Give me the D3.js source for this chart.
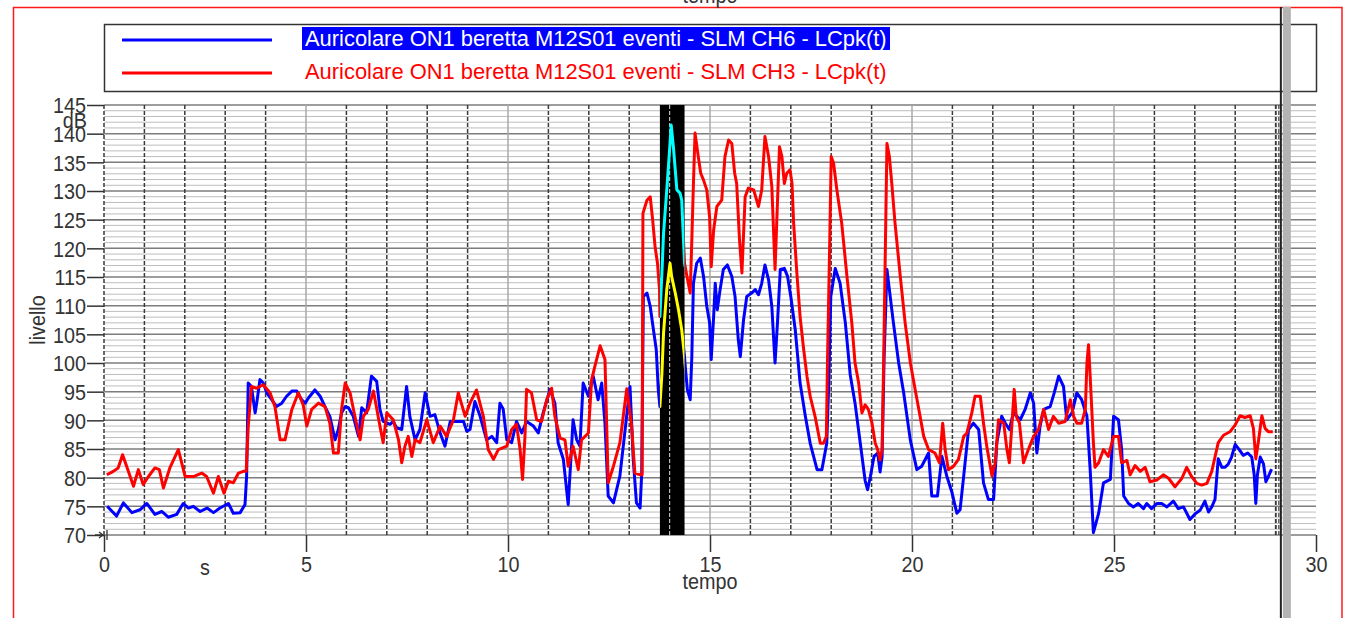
<!DOCTYPE html>
<html><head><meta charset="utf-8">
<script src="https://cdn.jsdelivr.net/npm/d3@7"></script>
<style>body{margin:0;background:#fff;overflow:hidden}svg{display:block}text{font-family:"Liberation Sans",Arial,sans-serif}</style>
</head><body>
<svg id="c" width="1350" height="618"></svg>
<script>
// ---------------- DATA ----------------
const seriesNames = [
  "Auricolare ON1 beretta M12S01 eventi - SLM CH6 - LCpk(t)",
  "Auricolare ON1 beretta M12S01 eventi - SLM CH3 - LCpk(t)"
];
// [time s, level dB]
const ch6 = [
[0.08,75.0],[0.31,73.3],[0.48,75.6],[0.69,73.9],[0.89,74.4],[1.06,75.5],[1.26,73.6],[1.43,74.1],[1.59,73.1],[1.80,73.6],
[1.96,75.5],[2.09,74.7],[2.21,75.0],[2.38,74.1],[2.55,74.7],[2.71,73.9],[2.87,74.7],[3.08,75.5],[3.20,73.8],[3.37,73.9],
[3.49,75.3],[3.53,80.2],[3.57,96.5],[3.65,95.9],[3.74,91.3],[3.78,93.0],[3.86,97.1],[3.94,96.5],[4.03,94.8],[4.15,93.6],
[4.27,92.4],[4.40,93.0],[4.52,94.2],[4.65,95.1],[4.77,95.1],[4.89,93.6],[4.98,93.0],[5.06,93.9],[5.22,95.3],[5.35,94.2],
[5.47,92.4],[5.59,90.7],[5.72,86.6],[5.80,88.4],[5.88,91.3],[5.97,92.4],[6.05,92.2],[6.17,90.7],[6.30,87.2],[6.38,92.2],
[6.50,91.3],[6.62,97.7],[6.75,96.8],[6.83,91.9],[6.91,89.8],[7.08,89.3],[7.16,89.8],[7.24,88.7],[7.37,88.4],[7.49,95.9],
[7.57,90.7],[7.70,86.6],[7.82,88.4],[7.95,94.8],[8.07,90.7],[8.19,91.0],[8.32,87.8],[8.44,85.5],[8.57,89.8],[8.73,89.8],
[8.90,89.8],[8.98,88.1],[9.06,88.4],[9.18,93.3],[9.31,90.7],[9.47,86.6],[9.60,87.2],[9.72,86.1],[9.80,93.0],[9.88,92.0],
[9.97,86.6],[10.09,86.1],[10.21,89.8],[10.34,87.8],[10.46,89.8],[10.63,89.0],[10.75,87.8],[10.87,91.3],[11.04,95.4],[11.16,93.0],
[11.24,86.1],[11.37,83.2],[11.49,75.3],[11.57,84.9],[11.61,90.1],[11.70,86.6],[11.78,85.5],[11.86,96.5],[11.99,94.2],[12.11,97.7],
[12.23,93.6],[12.32,96.5],[12.40,89.5],[12.48,76.8],[12.61,75.6],[12.77,80.3],[12.89,87.8],[13.02,95.9],[13.10,83.2],[13.18,75.6],
[13.27,74.7],[13.31,80.8],[13.35,111.6],[13.44,112.2],[13.52,109.9],[13.60,105.8],[13.67,102.3],[13.72,95.3],[13.76,92.4],[13.81,98.2],
[13.85,105.2],[13.93,112.8],[14.01,117.4],[14.05,115.1],[14.14,112.2],[14.22,109.3],[14.30,105.8],[14.37,101.1],[14.38,100.0],[14.44,95.3],
[14.51,93.6],[14.55,101.1],[14.59,113.9],[14.67,117.4],[14.76,118.3],[14.84,115.1],[14.92,109.9],[14.99,107.0],[15.03,100.6],[15.09,108.1],
[15.13,113.9],[15.18,109.3],[15.25,112.8],[15.33,116.3],[15.43,117.1],[15.54,115.1],[15.62,111.6],[15.70,104.1],[15.75,101.1],[15.83,107.5],
[15.91,111.6],[16.03,112.2],[16.12,112.8],[16.20,111.9],[16.28,113.9],[16.36,117.1],[16.45,114.5],[16.53,109.9],[16.61,100.0],[16.67,107.0],
[16.74,116.3],[16.84,116.5],[16.92,115.1],[17.00,111.6],[17.11,105.8],[17.23,96.5],[17.36,90.7],[17.48,86.0],[17.65,81.4],[17.77,81.4],
[17.89,86.0],[17.94,96.5],[17.99,111.6],[18.10,116.5],[18.22,113.9],[18.35,107.0],[18.47,98.0],[18.59,93.0],[18.72,86.0],[18.84,79.5],
[18.90,77.9],[18.97,80.2],[19.06,83.7],[19.15,84.3],[19.21,81.0],[19.26,83.7],[19.31,101.1],[19.38,116.3],[19.44,112.8],[19.54,107.0],
[19.67,100.0],[19.79,95.0],[19.96,86.5],[20.12,81.4],[20.24,82.0],[20.41,84.3],[20.49,76.8],[20.63,76.8],[20.74,83.7],[20.86,80.3],
[20.99,77.4],[21.11,73.8],[21.19,74.4],[21.28,80.3],[21.40,88.4],[21.52,89.5],[21.65,88.4],[21.77,79.1],[21.89,76.2],[22.02,76.2],
[22.10,86.1],[22.22,90.7],[22.31,89.5],[22.41,88.4],[22.51,91.3],[22.68,90.1],[22.80,91.9],[22.93,94.8],[23.01,93.0],[23.09,84.3],
[23.17,89.0],[23.26,91.9],[23.42,92.4],[23.52,94.8],[23.63,97.7],[23.75,95.9],[23.83,90.1],[23.96,91.3],[24.08,94.8],[24.20,93.6],
[24.33,90.7],[24.41,81.4],[24.49,70.4],[24.62,73.8],[24.74,79.1],[24.91,79.7],[24.99,90.7],[25.11,90.1],[25.19,84.9],[25.24,76.8],
[25.36,75.5],[25.48,74.9],[25.60,75.5],[25.73,74.6],[25.81,75.5],[25.93,74.6],[26.06,75.5],[26.18,75.5],[26.31,74.9],[26.47,75.9],
[26.59,74.6],[26.72,74.9],[26.88,72.7],[27.01,73.7],[27.13,74.3],[27.25,75.9],[27.34,74.0],[27.42,74.9],[27.50,76.2],[27.58,83.3],
[27.67,81.8],[27.75,81.8],[27.83,82.4],[27.91,83.6],[28.00,85.8],[28.10,84.9],[28.20,83.9],[28.31,84.3],[28.41,83.6],[28.47,80.5],
[28.51,75.5],[28.55,80.5],[28.62,83.6],[28.70,82.4],[28.76,79.3],[28.82,80.2],[28.90,81.5]
];
const ch3 = [
[0.07,80.5],[0.23,81.1],[0.35,81.7],[0.46,84.0],[0.56,82.0],[0.73,78.5],[0.85,81.4],[0.97,78.8],[1.10,80.2],[1.26,81.7],
[1.37,81.4],[1.47,78.2],[1.63,81.7],[1.84,84.9],[2.01,80.2],[2.21,80.2],[2.42,80.8],[2.54,80.2],[2.71,77.3],[2.83,80.2],
[2.97,77.3],[3.08,79.4],[3.20,79.1],[3.33,80.8],[3.45,81.1],[3.52,81.1],[3.57,88.9],[3.65,95.9],[3.78,95.6],[3.94,96.2],
[4.11,94.8],[4.23,92.4],[4.36,86.6],[4.48,86.6],[4.65,91.9],[4.81,94.8],[4.93,92.7],[5.02,89.0],[5.14,91.9],[5.31,93.0],
[5.47,92.4],[5.59,89.5],[5.68,84.3],[5.80,84.3],[5.88,91.9],[5.97,96.5],[6.09,94.8],[6.21,90.7],[6.34,86.6],[6.42,90.7],
[6.54,91.9],[6.67,95.1],[6.83,89.0],[6.91,86.1],[7.00,91.3],[7.16,90.1],[7.29,86.6],[7.37,82.6],[7.45,85.5],[7.53,87.2],
[7.62,83.7],[7.70,86.6],[7.82,86.1],[7.99,90.1],[8.15,86.1],[8.32,89.0],[8.48,87.2],[8.65,90.1],[8.77,94.8],[8.94,90.7],
[9.06,93.0],[9.22,95.3],[9.39,90.7],[9.51,84.9],[9.64,83.2],[9.76,84.9],[9.97,85.5],[10.09,88.4],[10.21,89.3],[10.30,84.9],
[10.36,79.7],[10.42,87.2],[10.46,95.4],[10.58,94.8],[10.71,90.1],[10.83,89.8],[10.96,93.6],[11.08,95.6],[11.16,90.7],[11.29,86.9],
[11.41,86.6],[11.49,82.0],[11.61,85.5],[11.74,81.4],[11.82,86.6],[11.99,87.8],[12.07,97.1],[12.15,99.4],[12.28,103.0],[12.40,100.6],
[12.48,79.1],[12.61,82.0],[12.77,86.1],[12.94,95.5],[13.06,89.0],[13.14,80.8],[13.27,80.5],[13.32,80.5],[13.34,126.1],[13.44,128.4],
[13.52,129.0],[13.58,125.0],[13.64,120.3],[13.70,117.4],[13.75,112.8],[13.76,108.1],[13.81,115.7],[13.85,122.6],[13.93,130.2],[14.00,137.2],
[14.04,141.5],[14.10,137.2],[14.14,133.7],[14.18,130.2],[14.26,129.6],[14.30,128.4],[14.34,122.0],[14.37,117.4],[14.43,115.1],[14.51,112.2],
[14.55,121.5],[14.59,131.3],[14.63,140.1],[14.71,136.0],[14.77,133.1],[14.84,131.9],[14.92,130.2],[14.99,125.5],[15.03,116.8],[15.09,123.2],
[15.17,127.3],[15.29,128.4],[15.37,136.0],[15.46,138.9],[15.54,138.3],[15.61,133.1],[15.66,131.3],[15.73,121.5],[15.79,115.7],[15.87,129.0],
[15.95,130.5],[16.08,130.2],[16.20,127.3],[16.28,130.2],[16.36,139.5],[16.45,136.0],[16.53,130.8],[16.61,116.3],[16.67,128.0],[16.72,137.7],
[16.78,136.0],[16.84,131.3],[16.90,133.1],[16.98,133.7],[17.03,131.3],[17.07,124.4],[17.15,115.7],[17.23,108.1],[17.32,102.3],[17.40,97.7],
[17.48,94.2],[17.60,90.7],[17.73,86.0],[17.81,86.0],[17.88,87.2],[17.91,101.1],[17.96,119.7],[18.00,136.0],[18.06,134.8],[18.14,130.2],
[18.26,124.4],[18.39,115.1],[18.51,107.0],[18.59,100.0],[18.68,96.5],[18.76,91.3],[18.84,92.7],[18.92,91.9],[19.01,89.5],[19.09,86.0],
[19.15,84.9],[19.21,83.1],[19.26,84.9],[19.30,101.1],[19.34,119.7],[19.38,138.3],[19.44,136.0],[19.50,131.3],[19.58,124.4],[19.71,115.1],
[19.83,107.0],[19.96,100.0],[20.08,95.3],[20.20,90.7],[20.29,87.2],[20.41,84.9],[20.57,84.3],[20.68,82.6],[20.76,89.5],[20.82,84.9],
[20.90,81.4],[21.03,82.0],[21.15,83.2],[21.28,87.2],[21.36,87.8],[21.48,91.3],[21.56,94.2],[21.69,94.2],[21.77,89.5],[21.85,85.5],
[21.98,80.3],[22.06,82.6],[22.14,90.1],[22.27,89.5],[22.35,84.9],[22.41,82.6],[22.47,89.0],[22.53,95.4],[22.58,90.7],[22.66,89.5],
[22.76,82.6],[22.88,84.9],[23.01,87.2],[23.13,88.4],[23.26,91.9],[23.38,88.4],[23.50,90.7],[23.63,89.5],[23.79,89.8],[23.92,93.6],
[24.00,90.7],[24.08,89.5],[24.20,89.5],[24.29,91.9],[24.33,100.0],[24.37,103.2],[24.41,97.7],[24.49,86.1],[24.53,81.8],[24.62,82.6],
[24.74,84.9],[24.86,83.7],[24.99,87.2],[25.11,87.2],[25.19,82.6],[25.32,83.0],[25.40,80.5],[25.52,82.1],[25.65,81.1],[25.77,81.8],
[25.89,79.3],[26.06,79.6],[26.22,80.5],[26.35,79.9],[26.51,78.4],[26.68,79.9],[26.80,81.8],[26.92,80.2],[27.05,79.0],[27.17,78.7],
[27.30,79.0],[27.42,81.1],[27.50,83.6],[27.58,86.1],[27.71,87.4],[27.87,88.0],[28.00,89.2],[28.12,90.8],[28.24,90.5],[28.37,90.8],
[28.45,88.6],[28.51,83.3],[28.57,86.1],[28.66,90.8],[28.74,88.6],[28.82,88.0],[28.93,88.0]
];
const yTickValues = [70,75,80,85,90,95,100,105,110,115,120,125,130,135,140,145];
const xTickValues = [0,5,10,15,20,25,30];
const selectedBand = [13.76, 14.37];   // highlighted time window (s)
const cursorTime = 29.13;               // vertical cursor (s)
const markerTimes = [29.01, 29.08];     // extra marker lines (s)

// ---------------- CHART ----------------
const svg = d3.select("#c");
const L = 104, R = 1316, T = 105, B = 535;
const x = d3.scaleLinear().domain([0, 30]).range([L, R]);
const y = d3.scaleLinear().domain([70, 145]).range([B, T]);
const SX = 0.9;
const LW = 3;

// frame
svg.append("rect").attr("x", 13.5).attr("y", 7.5).attr("width", 1328.5).attr("height", 700)
  .attr("fill", "none").attr("stroke", "#ff1a1a").attr("stroke-width", 1.5);

// partially visible title at very top
svg.append("text").attr("transform", `translate(710,3) scale(${SX},1)`).attr("text-anchor", "middle")
  .attr("font-size", 22).attr("fill", "#333").text("tempo");

// grid
const grid = svg.append("g");
grid.selectAll("line.hmin").data(d3.range(70, 146, 1).filter(d => d % 5 !== 0)).join("line")
  .attr("x1", L).attr("x2", R).attr("y1", d => y(d)).attr("y2", d => y(d))
  .attr("stroke", "#bdbdbd").attr("stroke-width", 1);
grid.selectAll("line.hmaj").data(yTickValues).join("line")
  .attr("x1", L).attr("x2", R).attr("y1", d => y(d)).attr("y2", d => y(d))
  .attr("stroke", "#7d7d7d").attr("stroke-width", 1.5);
grid.selectAll("line.vmin").data(d3.range(0, 30, 1).filter(d => d % 5 !== 0 || d === 0)).join("line")
  .attr("x1", d => x(d)).attr("x2", d => x(d)).attr("y1", T).attr("y2", B)
  .attr("stroke", "#3a3a3a").attr("stroke-width", 1.5).attr("stroke-dasharray", "4,2");
grid.selectAll("line.vmaj").data([5, 10, 15, 20, 25]).join("line")
  .attr("x1", d => x(d)).attr("x2", d => x(d)).attr("y1", T).attr("y2", B)
  .attr("stroke", "#a8a8a8").attr("stroke-width", 1.5);
grid.selectAll("line.mk").data(markerTimes).join("line")
  .attr("x1", d => x(d)).attr("x2", d => x(d)).attr("y1", T).attr("y2", B)
  .attr("stroke", "#3a3a3a").attr("stroke-width", 1.2).attr("stroke-dasharray", "4,2");

// axes
const yAxis = svg.append("g").attr("transform", `translate(${L},0)`)
  .call(d3.axisLeft(y).tickValues(yTickValues).tickSize(17).tickPadding(3).tickFormat(d3.format("d")));
const xAxis = svg.append("g").attr("transform", `translate(0,${B})`)
  .call(d3.axisBottom(x).tickValues(xTickValues).tickSize(17).tickPadding(4).tickFormat(d3.format("d")));
[yAxis, xAxis].forEach(a => {
  a.select(".domain").remove();
  a.selectAll(".tick line").attr("stroke", "#333").attr("stroke-width", 1.5);
  a.selectAll(".tick text").attr("font-size", 22).attr("fill", "#333")
    .attr("font-family", '"Liberation Sans",Arial,sans-serif');
});
yAxis.selectAll(".tick text").attr("dy", "0.36em").attr("transform", `scale(${SX},1)`);
xAxis.selectAll(".tick text").attr("transform", `scale(${SX},1)`);

// unit labels & axis titles
svg.append("text").attr("transform", `translate(87,128) scale(${SX},1)`).attr("text-anchor", "end")
  .attr("font-size", 22).attr("fill", "#333").text("dB");
svg.append("text").attr("transform", `translate(${x(2.5)},575) scale(${SX},1)`).attr("text-anchor", "middle")
  .attr("font-size", 22).attr("fill", "#333").text("s");
svg.append("text").attr("transform", `translate(710,589) scale(${SX},1)`).attr("text-anchor", "middle")
  .attr("font-size", 22).attr("fill", "#333").text("tempo");
svg.append("text").attr("transform", `translate(45,320) rotate(-90) scale(${SX},1)`).attr("text-anchor", "middle")
  .attr("font-size", 22).attr("fill", "#333").text("livello");

// small start marker
svg.append("path").attr("d", `M${L - 9},${B} L${L - 1},${B} M${L - 5},${B - 3} L${L - 1},${B} L${L - 5},${B + 3} M${L + 3},${B - 5} L${L + 3},${B + 5}`)
  .attr("stroke", "#333").attr("stroke-width", 1.3).attr("fill", "none");

// clip paths
const defs = svg.append("defs");
defs.append("clipPath").attr("id", "plotClip").append("rect")
  .attr("x", L).attr("y", T - 2).attr("width", R - L).attr("height", B - T + 4);
defs.append("clipPath").attr("id", "bandClip").append("rect")
  .attr("x", x(selectedBand[0])).attr("y", T).attr("width", x(selectedBand[1]) - x(selectedBand[0])).attr("height", B - T);

const line = d3.line().x(d => x(d[0])).y(d => y(d[1]));
const plot = svg.append("g").attr("clip-path", "url(#plotClip)");
plot.append("path").datum(ch6).attr("d", line).attr("fill", "none").attr("stroke", "#0000ff")
  .attr("stroke-width", LW).attr("stroke-linejoin", "round");
plot.append("path").datum(ch3).attr("d", line).attr("fill", "none").attr("stroke", "#ff0000")
  .attr("stroke-width", LW).attr("stroke-linejoin", "round");

// selected band (inverted colours)
plot.append("rect").attr("x", x(selectedBand[0])).attr("y", T).attr("width", x(selectedBand[1]) - x(selectedBand[0]))
  .attr("height", B - T).attr("fill", "#000");
plot.append("line").attr("x1", x(14)).attr("x2", x(14)).attr("y1", T).attr("y2", B)
  .attr("stroke", "#b8b8b8").attr("stroke-width", 1.2).attr("stroke-dasharray", "4,2");
const band = svg.append("g").attr("clip-path", "url(#bandClip)");
band.append("path").datum(ch6).attr("d", line).attr("fill", "none").attr("stroke", "#ffff00")
  .attr("stroke-width", LW).attr("stroke-linejoin", "round");
band.append("path").datum(ch3).attr("d", line).attr("fill", "none").attr("stroke", "#00ffff")
  .attr("stroke-width", LW).attr("stroke-linejoin", "round");

// legend
const lg = svg.append("g");
lg.append("rect").attr("x", 104.5).attr("y", 24.5).attr("width", 1212).attr("height", 67)
  .attr("fill", "#fff").attr("stroke", "#333").attr("stroke-width", 1.5);
const legendColors = ["#0000ff", "#ff0000"];
const legendY = [40, 73];
lg.selectAll("line.lg").data(seriesNames).join("line")
  .attr("x1", 122).attr("x2", 272).attr("y1", (d, i) => legendY[i]).attr("y2", (d, i) => legendY[i])
  .attr("stroke", (d, i) => legendColors[i]).attr("stroke-width", 3);
lg.append("rect").attr("x", 302).attr("y", 27).attr("width", 588).attr("height", 23).attr("fill", "#0000ff");
seriesNames.forEach((name, i) => {
  const t = lg.append("text").attr("font-size", 22).attr("fill", i === 0 ? "#fff" : "#ff0000").text(name);
  const w = t.node().getComputedTextLength();
  t.attr("transform", `translate(305,${i === 0 ? 46 : 79}) scale(${582 / w},1)`);
});

// cursor
svg.append("rect").attr("x", x(cursorTime) + 2).attr("y", 7).attr("width", 8).attr("height", 611).attr("fill", "#b4b4b4");
svg.append("line").attr("x1", x(cursorTime)).attr("x2", x(cursorTime)).attr("y1", 7).attr("y2", 618)
  .attr("stroke", "#222").attr("stroke-width", 2);
</script>
</body></html>
